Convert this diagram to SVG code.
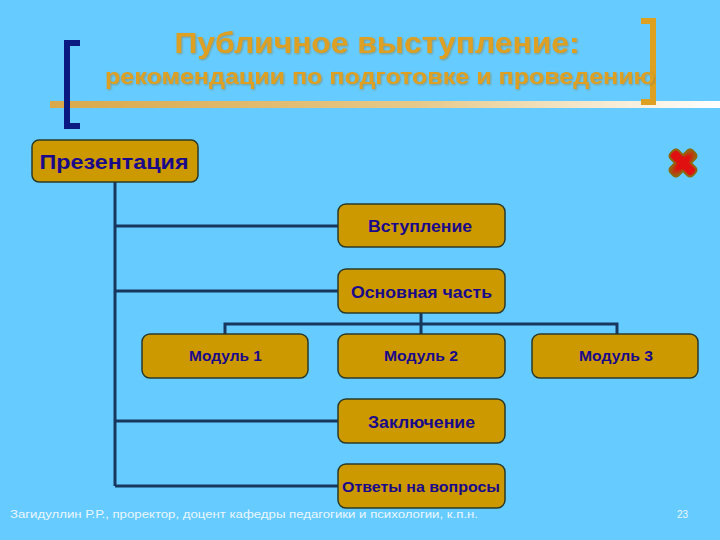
<svg xmlns="http://www.w3.org/2000/svg" width="720" height="540" viewBox="0 0 720 540">
<defs>
<linearGradient id="rule" x1="0" y1="0" x2="1" y2="0">
<stop offset="0" stop-color="#D9A84A"/>
<stop offset="0.55" stop-color="#E6C98A"/>
<stop offset="1" stop-color="#FFFFFF"/>
</linearGradient>
<radialGradient id="xg" cx="0.5" cy="0.5" r="0.5">
<stop offset="0.5" stop-color="#E01010"/>
<stop offset="1" stop-color="#A05A10"/>
</radialGradient>
<filter id="sh" x="-5%" y="-20%" width="110%" height="140%">
<feGaussianBlur in="SourceAlpha" stdDeviation="1"/>
<feOffset dx="1" dy="1" result="b"/>
<feFlood flood-color="#8a7a40" flood-opacity="0.6"/>
<feComposite in2="b" operator="in"/>
<feMerge><feMergeNode/><feMergeNode in="SourceGraphic"/></feMerge>
</filter>
</defs>
<style>
.box{fill:#CC9900;stroke:#2a3a2a;stroke-width:1.5}
.lbl{font-family:"Liberation Sans",Arial,sans-serif;font-weight:bold;fill:#1a0a8a;text-anchor:middle}
.ln{stroke:#17375E;stroke-width:3;fill:none}
.title{font-family:"Liberation Sans",Arial,sans-serif;font-weight:bold;fill:#DDA020;text-anchor:middle}
.foot{font-family:"Liberation Sans Narrow","Liberation Sans",Arial,sans-serif;fill:#EAF6FF;font-size:10px}
</style>
<rect width="720" height="540" fill="#66CCFF"/>
<!-- header decorations -->
<rect x="50" y="101" width="670" height="7" fill="url(#rule)"/>
<path d="M80,43 H67 V126 H80" fill="none" stroke="#0A1A80" stroke-width="6"/>
<path d="M641,21 H653 V102 H641" fill="none" stroke="#DDA020" stroke-width="6"/>
<g filter="url(#sh)">
<text class="title" x="377" y="53" font-size="29" textLength="405" lengthAdjust="spacingAndGlyphs">Публичное выступление:</text>
<text class="title" x="380" y="84" font-size="22" textLength="550" lengthAdjust="spacingAndGlyphs">рекомендации по подготовке и проведению</text>
</g>
<!-- X icon -->
<g id="close-icon" transform="translate(683,163) rotate(45)">
<rect x="-16" y="-6" width="32" height="12" rx="4" fill="url(#xg)" stroke="#8a6a10" stroke-width="1.2"/>
<rect x="-6" y="-16" width="12" height="32" rx="4" fill="url(#xg)" stroke="#8a6a10" stroke-width="1.2"/>
<rect x="-14.5" y="-4.5" width="29" height="9" rx="3" fill="#E01010"/>
</g>
<g id="connectors">
<path class="ln" d="M115,182 V486"/>
<path class="ln" d="M115,226 H338"/>
<path class="ln" d="M115,291 H338"/>
<path class="ln" d="M115,421 H338"/>
<path class="ln" d="M115,486 H338"/>
<path class="ln" d="M421,313 V334"/>
<path class="ln" d="M225,334 V324 H617 V334"/>
</g>
<g id="presentation">
<rect class="box" x="32" y="140" width="166" height="42" rx="7"/>
<text class="lbl" x="114" y="169" font-size="21" textLength="149" lengthAdjust="spacingAndGlyphs">Презентация</text>
</g>
<g id="intro">
<rect class="box" x="338" y="204" width="167" height="43" rx="8"/>
<text class="lbl" x="420" y="232" font-size="16" textLength="104" lengthAdjust="spacingAndGlyphs">Вступление</text>
</g>
<g id="main">
<rect class="box" x="338" y="269" width="167" height="44" rx="8"/>
<text class="lbl" x="421.5" y="298" font-size="16" textLength="141" lengthAdjust="spacingAndGlyphs">Основная часть</text>
</g>
<g id="module1">
<rect class="box" x="142" y="334" width="166" height="44" rx="8"/>
<text class="lbl" x="225.5" y="361" font-size="15" textLength="73" lengthAdjust="spacingAndGlyphs">Модуль 1</text>
</g>
<g id="module2">
<rect class="box" x="338" y="334" width="167" height="44" rx="8"/>
<text class="lbl" x="421" y="361" font-size="15" textLength="74" lengthAdjust="spacingAndGlyphs">Модуль 2</text>
</g>
<g id="module3">
<rect class="box" x="532" y="334" width="166" height="44" rx="8"/>
<text class="lbl" x="616" y="361" font-size="15" textLength="74" lengthAdjust="spacingAndGlyphs">Модуль 3</text>
</g>
<g id="conclusion">
<rect class="box" x="338" y="399" width="167" height="44" rx="8"/>
<text class="lbl" x="421.5" y="428" font-size="17" textLength="107" lengthAdjust="spacingAndGlyphs">Заключение</text>
</g>
<g id="qa">
<rect class="box" x="338" y="464" width="167" height="44" rx="8"/>
<text class="lbl" x="421" y="492" font-size="15" textLength="158" lengthAdjust="spacingAndGlyphs">Ответы на вопросы</text>
</g>
<text class="foot" x="10" y="518" textLength="468" lengthAdjust="spacingAndGlyphs">Загидуллин Р.Р., проректор, доцент кафедры педагогики и психологии, к.п.н.</text>
<text class="foot" x="677" y="518">23</text>
</svg>
